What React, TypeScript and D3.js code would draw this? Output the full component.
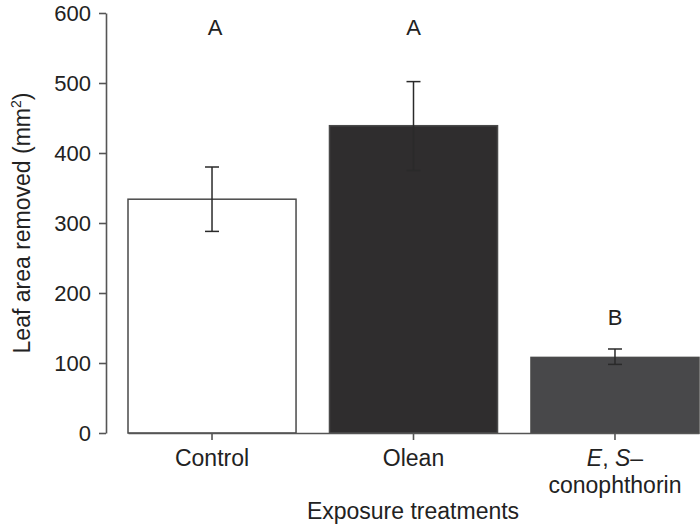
import React, { useEffect, useRef } from "react";
import * as d3 from "d3";

const categories = ["Control", "Olean", "ES"];
const means = [334, 439, 108];
const upper = [380, 502, 120];
const lower = [288, 375, 98];
const fills = ["#ffffff", "#2f2d2e", "#48484a"];
const letters = ["A", "A", "B"];
const letterPos = [568, 568, 154];
const yTicks = [0, 100, 200, 300, 400, 500, 600];

const W = 700;
const H = 526;
const FONT = "'Liberation Sans', Arial, Helvetica, sans-serif";

export default function App() {
  const yAxisRef = useRef<SVGGElement>(null);
  const xAxisRef = useRef<SVGGElement>(null);

  const y = d3.scaleLinear().domain([0, 600]).range([433, 13]);
  const x = d3
    .scaleBand<string>()
    .domain(categories)
    .range([128, 699])
    .paddingInner(0.166)
    .paddingOuter(0);

  useEffect(() => {
    const ya = d3
      .axisLeft(y)
      .tickValues(yTicks)
      .tickSize(7)
      .tickSizeOuter(0)
      .tickPadding(8)
      .tickFormat(d3.format("d"));
    const g = d3.select(yAxisRef.current!);
    g.call(ya as any);
    g.select(".domain").attr("stroke", "#555").attr("stroke-width", 1.6);
    g.selectAll(".tick line").attr("stroke", "#555").attr("stroke-width", 1.6);
    g.selectAll(".tick text")
      .attr("fill", "#222")
      .attr("font-size", 22)
      .attr("font-family", FONT);
    g.attr("font-family", FONT);

    const xa = d3
      .axisBottom(x)
      .tickSize(7)
      .tickSizeOuter(0)
      .tickFormat(() => "");
    const gx = d3.select(xAxisRef.current!);
    gx.call(xa as any);
    gx.select(".domain").attr("stroke", "#555").attr("stroke-width", 1.6);
    gx.selectAll(".tick line").attr("stroke", "#555").attr("stroke-width", 1.6);
  }, []);

  const bw = x.bandwidth();
  const cap = 7;

  return (
    <svg
      width={W}
      height={H}
      style={{ position: "absolute", left: 0, top: 0, background: "#fff" }}
      fontFamily={FONT}
    >
      {categories.map((c, i) => (
        <rect
          key={c}
          x={x(c)!}
          y={y(means[i])}
          width={bw}
          height={y(0) - y(means[i])}
          fill={fills[i]}
          stroke="#4a4a4a"
          strokeWidth={1.5}
        />
      ))}
      <g ref={xAxisRef} transform={`translate(0,${y(0)})`} />
      <g ref={yAxisRef} transform={`translate(106,0)`} />
      {categories.map((c, i) => {
        const cx = x(c)! + bw / 2;
        return (
          <g key={"e" + c} stroke="#2a2a2a" strokeWidth={1.5}>
            <line x1={cx} x2={cx} y1={y(upper[i])} y2={y(lower[i])} />
            <line x1={cx - cap} x2={cx + cap} y1={y(upper[i])} y2={y(upper[i])} />
            <line x1={cx - cap} x2={cx + cap} y1={y(lower[i])} y2={y(lower[i])} />
          </g>
        );
      })}
      {categories.map((c, i) => (
        <text
          key={"l" + c}
          x={x(c)! + bw / 2 + (i === 0 ? 3 : 0)}
          y={y(letterPos[i])}
          textAnchor="middle"
          fontSize={22}
          fill="#222"
        >
          {letters[i]}
        </text>
      ))}
      <text x={x("Control")! + bw / 2} y={466} textAnchor="middle" fontSize={23} fill="#222">
        Control
      </text>
      <text x={x("Olean")! + bw / 2} y={466} textAnchor="middle" fontSize={23} fill="#222">
        Olean
      </text>
      <text x={x("ES")! + bw / 2} y={466} textAnchor="middle" fontSize={23} fill="#222">
        <tspan fontStyle="italic">E</tspan>
        <tspan>, </tspan>
        <tspan fontStyle="italic">S</tspan>
        <tspan>–</tspan>
      </text>
      <text x={x("ES")! + bw / 2} y={493} textAnchor="middle" fontSize={23} fill="#222">
        conophthorin
      </text>
      <text x={413} y={519} textAnchor="middle" fontSize={23} fill="#222">
        Exposure treatments
      </text>
      <text
        transform={`translate(30,${(y(0) + y(600)) / 2}) rotate(-90)`}
        textAnchor="middle"
        fontSize={23}
        fill="#222"
      >
        Leaf area removed (mm
        <tspan fontSize={14} dy={-9}>2</tspan>
        <tspan dy={9}>)</tspan>
      </text>
    </svg>
  );
}
